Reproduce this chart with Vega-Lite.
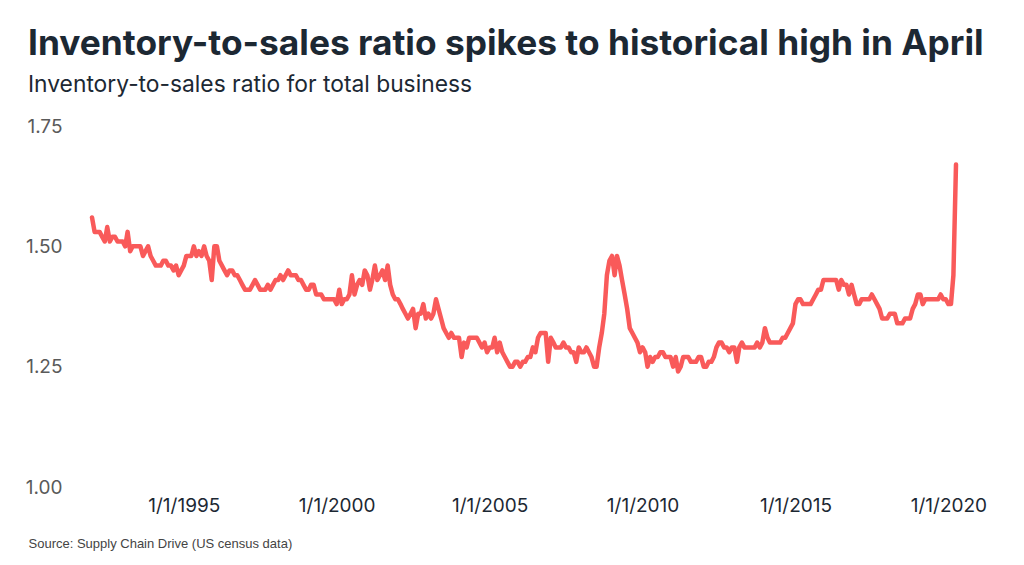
{
  "$schema": "https://vega.github.io/schema/vega-lite/v6.json",
  "width": 864,
  "height": 361,
  "autosize": {"type": "none"},
  "padding": {"left": 92, "top": 126, "right": 68, "bottom": 78},
  "background": "white",
  "config": {"view": {"stroke": null}},
  "title": {
    "text": "Inventory-to-sales ratio spikes to historical high in April",
    "subtitle": "Inventory-to-sales ratio for total business",
    "anchor": "start",
    "frame": "group",
    "dx": -64,
    "font": "Inter",
    "fontSize": 35.3,
    "fontWeight": 700,
    "color": "#1c2833",
    "subtitleFont": "Inter",
    "subtitleFontSize": 22.8,
    "subtitleFontWeight": 400,
    "subtitleColor": "#1c2833",
    "subtitlePadding": 12,
    "offset": 20
  },
  "data": {
    "values": [
      {"t":"1992-01","v":1.56},{"t":"1992-02","v":1.53},{"t":"1992-03","v":1.53},{"t":"1992-04","v":1.53},{"t":"1992-05","v":1.52},{"t":"1992-06","v":1.51},{"t":"1992-07","v":1.54},{"t":"1992-08","v":1.51},{"t":"1992-09","v":1.52},{"t":"1992-10","v":1.52},{"t":"1992-11","v":1.51},{"t":"1992-12","v":1.51},
      {"t":"1993-01","v":1.51},{"t":"1993-02","v":1.50},{"t":"1993-03","v":1.53},{"t":"1993-04","v":1.49},{"t":"1993-05","v":1.50},{"t":"1993-06","v":1.50},{"t":"1993-07","v":1.50},{"t":"1993-08","v":1.50},{"t":"1993-09","v":1.48},{"t":"1993-10","v":1.49},{"t":"1993-11","v":1.50},{"t":"1993-12","v":1.48},
      {"t":"1994-01","v":1.47},{"t":"1994-02","v":1.46},{"t":"1994-03","v":1.46},{"t":"1994-04","v":1.46},{"t":"1994-05","v":1.47},{"t":"1994-06","v":1.47},{"t":"1994-07","v":1.46},{"t":"1994-08","v":1.46},{"t":"1994-09","v":1.45},{"t":"1994-10","v":1.46},{"t":"1994-11","v":1.44},{"t":"1994-12","v":1.45},
      {"t":"1995-01","v":1.46},{"t":"1995-02","v":1.48},{"t":"1995-03","v":1.48},{"t":"1995-04","v":1.48},{"t":"1995-05","v":1.50},{"t":"1995-06","v":1.48},{"t":"1995-07","v":1.49},{"t":"1995-08","v":1.48},{"t":"1995-09","v":1.50},{"t":"1995-10","v":1.48},{"t":"1995-11","v":1.47},{"t":"1995-12","v":1.43},
      {"t":"1996-01","v":1.50},{"t":"1996-02","v":1.50},{"t":"1996-03","v":1.47},{"t":"1996-04","v":1.46},{"t":"1996-05","v":1.45},{"t":"1996-06","v":1.44},{"t":"1996-07","v":1.45},{"t":"1996-08","v":1.45},{"t":"1996-09","v":1.44},{"t":"1996-10","v":1.44},{"t":"1996-11","v":1.43},{"t":"1996-12","v":1.42},
      {"t":"1997-01","v":1.41},{"t":"1997-02","v":1.41},{"t":"1997-03","v":1.41},{"t":"1997-04","v":1.42},{"t":"1997-05","v":1.43},{"t":"1997-06","v":1.42},{"t":"1997-07","v":1.41},{"t":"1997-08","v":1.41},{"t":"1997-09","v":1.41},{"t":"1997-10","v":1.42},{"t":"1997-11","v":1.41},{"t":"1997-12","v":1.42},
      {"t":"1998-01","v":1.43},{"t":"1998-02","v":1.43},{"t":"1998-03","v":1.44},{"t":"1998-04","v":1.43},{"t":"1998-05","v":1.44},{"t":"1998-06","v":1.45},{"t":"1998-07","v":1.44},{"t":"1998-08","v":1.44},{"t":"1998-09","v":1.44},{"t":"1998-10","v":1.43},{"t":"1998-11","v":1.43},{"t":"1998-12","v":1.42},
      {"t":"1999-01","v":1.41},{"t":"1999-02","v":1.41},{"t":"1999-03","v":1.42},{"t":"1999-04","v":1.42},{"t":"1999-05","v":1.40},{"t":"1999-06","v":1.40},{"t":"1999-07","v":1.40},{"t":"1999-08","v":1.39},{"t":"1999-09","v":1.39},{"t":"1999-10","v":1.39},{"t":"1999-11","v":1.39},{"t":"1999-12","v":1.39},
      {"t":"2000-01","v":1.38},{"t":"2000-02","v":1.41},{"t":"2000-03","v":1.38},{"t":"2000-04","v":1.39},{"t":"2000-05","v":1.39},{"t":"2000-06","v":1.40},{"t":"2000-07","v":1.44},{"t":"2000-08","v":1.40},{"t":"2000-09","v":1.42},{"t":"2000-10","v":1.43},{"t":"2000-11","v":1.42},{"t":"2000-12","v":1.45},
      {"t":"2001-01","v":1.44},{"t":"2001-02","v":1.41},{"t":"2001-03","v":1.43},{"t":"2001-04","v":1.46},{"t":"2001-05","v":1.43},{"t":"2001-06","v":1.44},{"t":"2001-07","v":1.45},{"t":"2001-08","v":1.43},{"t":"2001-09","v":1.46},{"t":"2001-10","v":1.42},{"t":"2001-11","v":1.40},{"t":"2001-12","v":1.39},
      {"t":"2002-01","v":1.39},{"t":"2002-02","v":1.38},{"t":"2002-03","v":1.37},{"t":"2002-04","v":1.36},{"t":"2002-05","v":1.35},{"t":"2002-06","v":1.36},{"t":"2002-07","v":1.37},{"t":"2002-08","v":1.33},{"t":"2002-09","v":1.36},{"t":"2002-10","v":1.36},{"t":"2002-11","v":1.38},{"t":"2002-12","v":1.35},
      {"t":"2003-01","v":1.36},{"t":"2003-02","v":1.35},{"t":"2003-03","v":1.36},{"t":"2003-04","v":1.39},{"t":"2003-05","v":1.37},{"t":"2003-06","v":1.35},{"t":"2003-07","v":1.33},{"t":"2003-08","v":1.32},{"t":"2003-09","v":1.31},{"t":"2003-10","v":1.32},{"t":"2003-11","v":1.31},{"t":"2003-12","v":1.31},
      {"t":"2004-01","v":1.31},{"t":"2004-02","v":1.27},{"t":"2004-03","v":1.30},{"t":"2004-04","v":1.29},{"t":"2004-05","v":1.31},{"t":"2004-06","v":1.31},{"t":"2004-07","v":1.31},{"t":"2004-08","v":1.31},{"t":"2004-09","v":1.30},{"t":"2004-10","v":1.29},{"t":"2004-11","v":1.30},{"t":"2004-12","v":1.28},
      {"t":"2005-01","v":1.29},{"t":"2005-02","v":1.29},{"t":"2005-03","v":1.31},{"t":"2005-04","v":1.28},{"t":"2005-05","v":1.30},{"t":"2005-06","v":1.28},{"t":"2005-07","v":1.27},{"t":"2005-08","v":1.26},{"t":"2005-09","v":1.25},{"t":"2005-10","v":1.25},{"t":"2005-11","v":1.26},{"t":"2005-12","v":1.26},
      {"t":"2006-01","v":1.25},{"t":"2006-02","v":1.26},{"t":"2006-03","v":1.26},{"t":"2006-04","v":1.27},{"t":"2006-05","v":1.27},{"t":"2006-06","v":1.29},{"t":"2006-07","v":1.28},{"t":"2006-08","v":1.31},{"t":"2006-09","v":1.32},{"t":"2006-10","v":1.32},{"t":"2006-11","v":1.32},{"t":"2006-12","v":1.26},
      {"t":"2007-01","v":1.31},{"t":"2007-02","v":1.30},{"t":"2007-03","v":1.29},{"t":"2007-04","v":1.29},{"t":"2007-05","v":1.29},{"t":"2007-06","v":1.30},{"t":"2007-07","v":1.29},{"t":"2007-08","v":1.29},{"t":"2007-09","v":1.28},{"t":"2007-10","v":1.28},{"t":"2007-11","v":1.26},{"t":"2007-12","v":1.29},
      {"t":"2008-01","v":1.28},{"t":"2008-02","v":1.28},{"t":"2008-03","v":1.29},{"t":"2008-04","v":1.28},{"t":"2008-05","v":1.27},{"t":"2008-06","v":1.25},{"t":"2008-07","v":1.25},{"t":"2008-08","v":1.29},{"t":"2008-09","v":1.32},{"t":"2008-10","v":1.36},{"t":"2008-11","v":1.44},{"t":"2008-12","v":1.47},
      {"t":"2009-01","v":1.48},{"t":"2009-02","v":1.44},{"t":"2009-03","v":1.48},{"t":"2009-04","v":1.46},{"t":"2009-05","v":1.43},{"t":"2009-06","v":1.40},{"t":"2009-07","v":1.37},{"t":"2009-08","v":1.33},{"t":"2009-09","v":1.32},{"t":"2009-10","v":1.31},{"t":"2009-11","v":1.30},{"t":"2009-12","v":1.28},
      {"t":"2010-01","v":1.29},{"t":"2010-02","v":1.28},{"t":"2010-03","v":1.25},{"t":"2010-04","v":1.27},{"t":"2010-05","v":1.26},{"t":"2010-06","v":1.27},{"t":"2010-07","v":1.27},{"t":"2010-08","v":1.28},{"t":"2010-09","v":1.28},{"t":"2010-10","v":1.27},{"t":"2010-11","v":1.27},{"t":"2010-12","v":1.27},
      {"t":"2011-01","v":1.25},{"t":"2011-02","v":1.27},{"t":"2011-03","v":1.24},{"t":"2011-04","v":1.25},{"t":"2011-05","v":1.27},{"t":"2011-06","v":1.27},{"t":"2011-07","v":1.27},{"t":"2011-08","v":1.26},{"t":"2011-09","v":1.26},{"t":"2011-10","v":1.26},{"t":"2011-11","v":1.27},{"t":"2011-12","v":1.27},
      {"t":"2012-01","v":1.25},{"t":"2012-02","v":1.25},{"t":"2012-03","v":1.26},{"t":"2012-04","v":1.26},{"t":"2012-05","v":1.27},{"t":"2012-06","v":1.29},{"t":"2012-07","v":1.30},{"t":"2012-08","v":1.30},{"t":"2012-09","v":1.29},{"t":"2012-10","v":1.29},{"t":"2012-11","v":1.28},{"t":"2012-12","v":1.29},
      {"t":"2013-01","v":1.29},{"t":"2013-02","v":1.26},{"t":"2013-03","v":1.29},{"t":"2013-04","v":1.30},{"t":"2013-05","v":1.29},{"t":"2013-06","v":1.29},{"t":"2013-07","v":1.29},{"t":"2013-08","v":1.29},{"t":"2013-09","v":1.29},{"t":"2013-10","v":1.30},{"t":"2013-11","v":1.29},{"t":"2013-12","v":1.30},
      {"t":"2014-01","v":1.33},{"t":"2014-02","v":1.31},{"t":"2014-03","v":1.30},{"t":"2014-04","v":1.30},{"t":"2014-05","v":1.30},{"t":"2014-06","v":1.30},{"t":"2014-07","v":1.30},{"t":"2014-08","v":1.31},{"t":"2014-09","v":1.31},{"t":"2014-10","v":1.32},{"t":"2014-11","v":1.33},{"t":"2014-12","v":1.34},
      {"t":"2015-01","v":1.38},{"t":"2015-02","v":1.39},{"t":"2015-03","v":1.39},{"t":"2015-04","v":1.38},{"t":"2015-05","v":1.38},{"t":"2015-06","v":1.38},{"t":"2015-07","v":1.38},{"t":"2015-08","v":1.39},{"t":"2015-09","v":1.40},{"t":"2015-10","v":1.41},{"t":"2015-11","v":1.41},{"t":"2015-12","v":1.43},
      {"t":"2016-01","v":1.43},{"t":"2016-02","v":1.43},{"t":"2016-03","v":1.43},{"t":"2016-04","v":1.43},{"t":"2016-05","v":1.43},{"t":"2016-06","v":1.41},{"t":"2016-07","v":1.43},{"t":"2016-08","v":1.42},{"t":"2016-09","v":1.42},{"t":"2016-10","v":1.40},{"t":"2016-11","v":1.42},{"t":"2016-12","v":1.40},
      {"t":"2017-01","v":1.38},{"t":"2017-02","v":1.38},{"t":"2017-03","v":1.39},{"t":"2017-04","v":1.39},{"t":"2017-05","v":1.39},{"t":"2017-06","v":1.39},{"t":"2017-07","v":1.40},{"t":"2017-08","v":1.39},{"t":"2017-09","v":1.38},{"t":"2017-10","v":1.37},{"t":"2017-11","v":1.35},{"t":"2017-12","v":1.35},
      {"t":"2018-01","v":1.35},{"t":"2018-02","v":1.36},{"t":"2018-03","v":1.36},{"t":"2018-04","v":1.36},{"t":"2018-05","v":1.34},{"t":"2018-06","v":1.34},{"t":"2018-07","v":1.34},{"t":"2018-08","v":1.35},{"t":"2018-09","v":1.35},{"t":"2018-10","v":1.35},{"t":"2018-11","v":1.37},{"t":"2018-12","v":1.38},
      {"t":"2019-01","v":1.40},{"t":"2019-02","v":1.40},{"t":"2019-03","v":1.38},{"t":"2019-04","v":1.39},{"t":"2019-05","v":1.39},{"t":"2019-06","v":1.39},{"t":"2019-07","v":1.39},{"t":"2019-08","v":1.39},{"t":"2019-09","v":1.39},{"t":"2019-10","v":1.40},{"t":"2019-11","v":1.39},{"t":"2019-12","v":1.39},
      {"t":"2020-01","v":1.38},{"t":"2020-02","v":1.38},{"t":"2020-03","v":1.44},{"t":"2020-04","v":1.67}
    ],
    "format": {"parse": {"t": "date:'%Y-%m'"}}
  },
  "mark": {"type": "line", "color": "#f95a5a", "strokeWidth": 4.5, "strokeJoin": "round", "strokeCap": "round"},
  "encoding": {
    "x": {
      "field": "t",
      "type": "temporal",
      "scale": {"domain": [{"year": 1992, "month": 1, "date": 1}, {"year": 2020, "month": 4, "date": 1}]},
      "axis": {
        "values": [
          {"year": 1995, "month": 1, "date": 1},
          {"year": 2000, "month": 1, "date": 1},
          {"year": 2005, "month": 1, "date": 1},
          {"year": 2010, "month": 1, "date": 1},
          {"year": 2015, "month": 1, "date": 1},
          {"year": 2020, "month": 1, "date": 1}
        ],
        "format": "%-m/%-d/%Y",
        "labelFont": "Inter",
        "labelFontSize": 19,
        "labelColor": "#1c2833",
        "labelPadding": 9,
        "labelOverlap": false,
        "labelFlush": false,
        "domain": false,
        "ticks": false,
        "tickSize": 0,
        "grid": false,
        "title": "Source: Supply Chain Drive (US census data)",
        "titleFont": "Liberation Sans",
        "titleFontSize": 13,
        "titleFontWeight": 400,
        "titleColor": "#444444",
        "titleAlign": "left",
        "titleBaseline": "middle",
        "titleAnchor": "start",
        "titleX": -64,
        "titleY": 56
      }
    },
    "y": {
      "field": "v",
      "type": "quantitative",
      "scale": {"domain": [1.0, 1.75], "nice": false, "zero": false},
      "axis": {
        "values": [1.0, 1.25, 1.5, 1.75],
        "format": ".2f",
        "labelFont": "Inter",
        "labelFontSize": 19,
        "labelColor": "#5a5a5a",
        "labelPadding": 30,
        "domain": false,
        "ticks": false,
        "tickSize": 0,
        "grid": false,
        "title": null
      }
    }
  }
}
